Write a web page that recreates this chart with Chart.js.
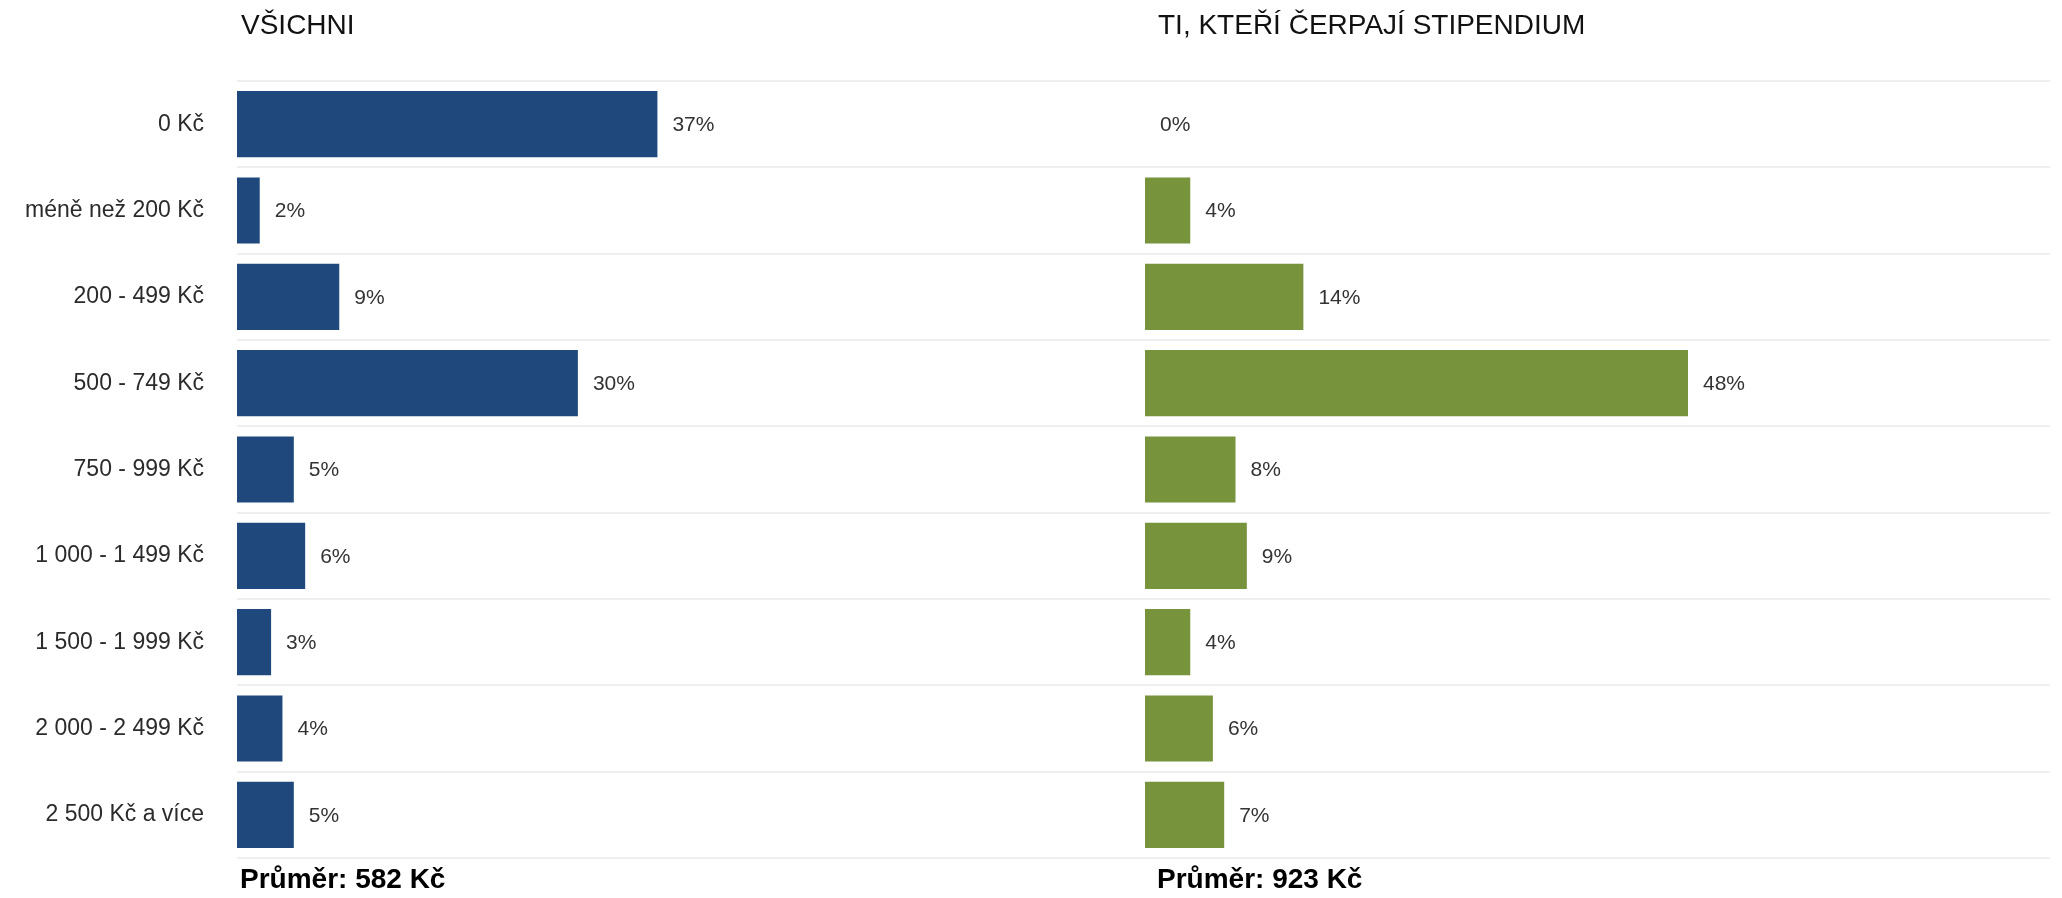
<!DOCTYPE html>
<html lang="cs">
<head>
<meta charset="utf-8">
<title>Stipendium</title>
<script src="https://cdn.jsdelivr.net/npm/chart.js@4.4.1/dist/chart.umd.min.js"></script>
<style>
    html, body {
        margin: 0;
        padding: 0;
        background: #ffffff;
        width: 2062px;
        height: 898px;
        overflow: hidden;
        font-family: "Liberation Sans", Arial, Helvetica, sans-serif;
    }
    .wrap {
        position: absolute;
        top: 0;
        height: 898px;
    }
    .title {
        position: absolute;
        top: 11px;
        font-size: 28px;
        line-height: 28px;
        color: #111111;
        white-space: nowrap;
    }
    .avg {
        position: absolute;
        top: 865px;
        font-size: 28px;
        line-height: 28px;
        font-weight: bold;
        color: #000000;
        white-space: nowrap;
    }
</style>
</head>
<body>
<div class="wrap" style="left:0;width:1146px;"><canvas id="allChart"></canvas></div>
<div class="wrap" style="left:1145px;width:917px;"><canvas id="stipChart"></canvas></div>

<div class="title" style="left:241px;">VŠICHNI</div>
<div class="title" style="left:1158px;">TI, KTEŘÍ ČERPAJÍ STIPENDIUM</div>
<div class="avg" style="left:240px;">Průměr: 582 Kč</div>
<div class="avg" style="left:1157px;">Průměr: 923 Kč</div>

<script>
// kategorie (výše stipendia)
const categories = [
    '0 Kč',
    'méně než 200 Kč',
    '200 - 499 Kč',
    '500 - 749 Kč',
    '750 - 999 Kč',
    '1 000 - 1 499 Kč',
    '1 500 - 1 999 Kč',
    '2 000 - 2 499 Kč',
    '2 500 Kč a více'
];

// podíly v %
const allValues = [37, 2, 9, 30, 5, 6, 3, 4, 5];
const stipValues = [0, 4, 14, 48, 8, 9, 4, 6, 7];

const xMax = 80;

// popisky hodnot vedle sloupců
const valueLabels = {
    id: 'valueLabels',
    afterDatasetsDraw(chart) {
        const ctx = chart.ctx;
        ctx.save();
        ctx.font = '21px "Liberation Sans", Arial, sans-serif';
        ctx.fillStyle = '#333333';
        ctx.textAlign = 'left';
        ctx.textBaseline = 'middle';
        chart.getDatasetMeta(0).data.forEach(function (bar, i) {
            const v = chart.data.datasets[0].data[i];
            ctx.fillText(v + '%', bar.x + 15, bar.y + 1);
        });
        ctx.restore();
    }
};

function makeChart(id, values, color, showLabels, padRight) {
    const ctx = document.getElementById(id).getContext('2d');
    return new Chart(ctx, {
        type: 'bar',
        data: {
            labels: categories,
            datasets: [{
                data: values,
                backgroundColor: color,
                borderWidth: 0,
                barPercentage: 0.766,
                categoryPercentage: 1
            }]
        },
        options: {
            indexAxis: 'y',
            responsive: true,
            maintainAspectRatio: false,
            animation: false,
            layout: {
                padding: { top: 81, bottom: 40, left: 0, right: padRight }
            },
            plugins: {
                legend: { display: false },
                tooltip: { enabled: false }
            },
            scales: {
                x: {
                    display: false,
                    min: 0,
                    max: xMax
                },
                y: {
                    border: { display: false },
                    grid: {
                        color: '#efefef',
                        lineWidth: 2,
                        drawTicks: false
                    },
                    ticks: {
                        display: showLabels,
                        padding: 33,
                        color: '#2b2b2b',
                        font: { family: '"Liberation Sans", Arial, sans-serif', size: 23 }
                    },
                    afterFit: function (scale) {
                        scale.width = showLabels ? 237 : 0;
                        // labels must not push the plot area
                        scale.paddingTop = 0;
                        scale.paddingBottom = 0;
                    }
                }
            }
        },
        plugins: [valueLabels]
    });
}

document.addEventListener('DOMContentLoaded', function () {
    window.allChart = makeChart('allChart', allValues, '#1F497D', true, 0);
    window.stipChart = makeChart('stipChart', stipValues, '#77933C', false, 12);
});
</script>
</body>
</html>
